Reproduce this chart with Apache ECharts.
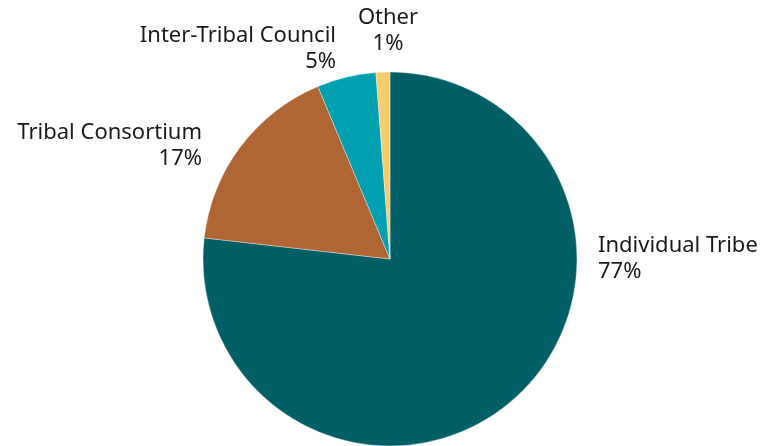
<!DOCTYPE html>
<html><head><meta charset="utf-8">
<script src="https://cdn.jsdelivr.net/npm/echarts@6/dist/echarts.min.js"></script>
<style>html,body{margin:0;padding:0;background:#fff}#c{width:776px;height:446px}</style>
</head><body><div id="c"></div>
<script>
const categories = ['Individual Tribe', 'Tribal Consortium', 'Inter-Tribal Council', 'Other'];
const values = [76.8, 16.9, 5.1, 1.2];
const colors = ['#005F66', '#B06535', '#00A0B0', '#FACB6A'];
const labelSpots = [
  {x: 598, y: 259, align: 'left'},
  {x: 202, y: 146, align: 'right'},
  {x: 336, y: 49, align: 'right'},
  {x: 388, y: 31, align: 'center'}
];
const chart = echarts.init(document.getElementById('c'));
chart.setOption({
  animation: false,
  series: [{
    type: 'pie',
    center: [390, 259],
    radius: 187,
    startAngle: 90,
    clockwise: true,
    percentPrecision: 0,
    data: categories.map((n, i) => ({name: n, value: values[i], itemStyle: {color: colors[i]}})),
    itemStyle: {borderColor: 'rgba(255,255,255,0.6)', borderWidth: 0.6},
    label: {
      show: true, position: 'outside', formatter: '{b}\n{d}%', overflow: 'none',
      fontFamily: 'Noto Sans', fontSize: 22, lineHeight: 26, color: '#1a1a1a'
    },
    labelLine: {show: false},
    labelLayout: function (p) {
      const s = labelSpots[p.dataIndex];
      return {x: s.x, y: s.y, align: s.align, verticalAlign: 'middle'};
    }
  }]
});
</script></body></html>
